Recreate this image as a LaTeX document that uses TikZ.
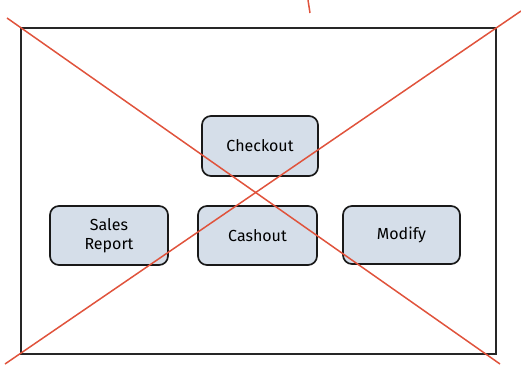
\documentclass[tikz,border=0pt]{standalone}
\usepackage{fontspec}
\setmainfont{Fira Sans}
\definecolor{boxfill}{HTML}{D5DEE9}
\definecolor{crossred}{HTML}{E0533C}
\tikzset{
  uibox/.style={draw=black!90, line width=1.7pt, fill=boxfill, rounded corners=9pt, inner sep=0pt, align=center, font=\fontsize{16}{19}\selectfont},
  redline/.style={draw=crossred, line width=1.5pt},
  frameline/.style={draw=black!85, line width=1.6pt}
}
\begin{document}
\begin{tikzpicture}[x=1pt,y=-1pt]
\useasboundingbox (0,0) rectangle (521,366);
\node[uibox, minimum width=116pt, minimum height=60pt] (checkout) at (260,146) {Checkout};
\node[uibox, minimum width=118pt, minimum height=59pt] (sales) at (109,235.5) {Sales\\Report};
\node[uibox, minimum width=119pt, minimum height=59pt] (cashout) at (257.5,235.5) {Cashout};
\node[uibox, minimum width=117pt, minimum height=58pt] (modify) at (401.5,235) {Modify};
\draw[frameline] (21,28) rectangle (496,354);
\coordinate (tl) at (7,18);
\coordinate (br) at (500,364);
\coordinate (tr) at (521,11);
\coordinate (bl) at (5,364);
\coordinate (tick1) at (308,0);
\coordinate (tick2) at (310,13);
\draw[redline] (tl) -- (br);
\draw[redline] (tr) -- (bl);
\draw[redline] (tick1) -- (tick2);
\end{tikzpicture}
\end{document}
